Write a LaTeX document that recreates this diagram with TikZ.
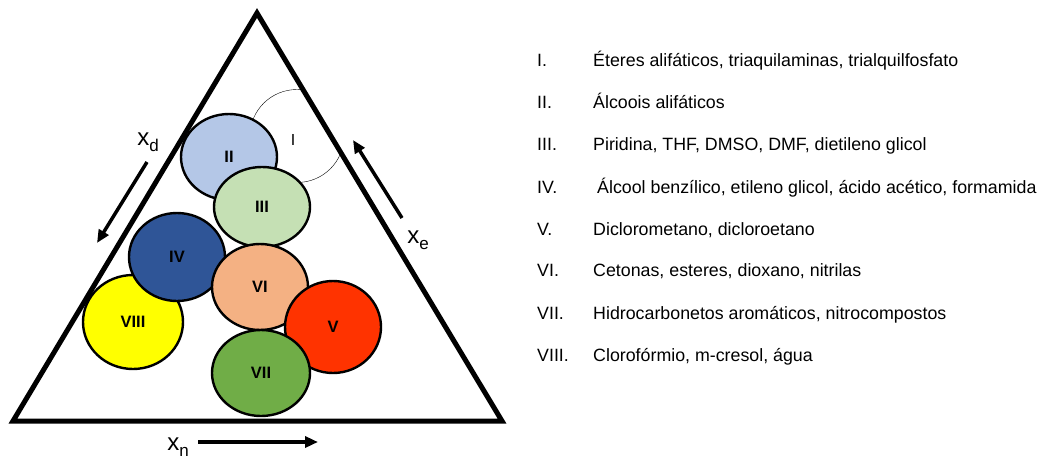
\documentclass[tikz,border=0pt]{standalone}
\usepackage{fontspec}
\setmainfont{Liberation Sans}
\usetikzlibrary{arrows.meta}
\usetikzlibrary{shapes.geometric}
\definecolor{alcblue}{HTML}{B4C7E7}
\definecolor{pyrgreen}{HTML}{C5E0B4}
\definecolor{benzblue}{HTML}{2F5597}
\definecolor{ketsalmon}{HTML}{F4B183}
\definecolor{dclred}{HTML}{FF3300}
\definecolor{chlyellow}{HTML}{FFFF00}
\definecolor{aromgreen}{HTML}{70AD47}
\newcommand{\xlab}[1]{x\raisebox{-0.5ex}{\fontsize{17}{17}\selectfont #1}}

\begin{document}
\begin{tikzpicture}
[x=1pt,y=-1pt,
disc/.style={shape=ellipse,draw,line width=2.4pt,inner sep=0pt,
  minimum width=96pt,minimum height=86pt,
  font=\fontsize{16.5}{16.5}\selectfont\bfseries},
axis/.style={line width=3.5pt,-{Triangle[length=13pt,width=11pt]}},
axlabel/.style={font=\fontsize{24}{24}\selectfont,inner sep=0pt},
num/.style={anchor=base west,inner sep=0pt,font=\fontsize{17.8}{20}\selectfont},
item/.style={num}]

\useasboundingbox (0,0) rectangle (1062,461);

\coordinate (top) at (257,13);
\coordinate (bl) at (13,421);
\coordinate (br) at (502,421);

% group I, cut by the triangle
\begin{scope}
  \clip (top) -- (bl) -- (br) -- cycle;
  \node (c1) [shape=ellipse,draw,thin,minimum width=94pt,minimum height=93pt]
        at (297,136) {};
\end{scope}
\node (l1) [font=\fontsize{16}{16}\selectfont] at (293,140) {I};

\node (c2) [disc,fill=alcblue] at (229,157) {II};
\node (c3) [disc,fill=pyrgreen,minimum height=80pt] at (262,207) {III};
\node (c8) [disc,fill=chlyellow,minimum width=100pt,minimum height=94pt] at (133,322) {VIII};
\node (c4) [disc,fill=benzblue,minimum height=88pt] at (177,257) {IV};
\node (c6) [disc,fill=ketsalmon] at (260,287) {VI};
\node (c5) [disc,fill=dclred,minimum height=92pt] at (333,327) {V};
\node (c7) [disc,fill=aromgreen,minimum width=98pt] at (261,373) {VII};

\draw [line width=5pt] (top) -- (bl) -- (br) -- cycle;

% axes
\coordinate (d0) at (147,162);
\coordinate (d1) at (97,243);
\draw [axis] (d0) -- (d1);
\node (xd) [axlabel] at (148,142) {\xlab{d}};

\coordinate (e0) at (402,218);
\coordinate (e1) at (353,140);
\draw [axis] (e0) -- (e1);
\node (xe) [axlabel] at (418,240) {\xlab{e}};

\coordinate (n0) at (198,442);
\coordinate (n1) at (318,442);
\draw [axis] (n0) -- (n1);
\node (xn) [axlabel] at (178,447) {\xlab{n}};

% legend
\node (k1) [num] at (537,66) {I.};
\node (t1) [item] at (593,66) {Éteres alifáticos, triaquilaminas, trialquilfosfato};
\node (k2) [num] at (537,108) {II.};
\node (t2) [item] at (593,108) {Álcoois alifáticos};
\node (k3) [num] at (537,150) {III.};
\node (t3) [item] at (593,150) {Piridina, THF, DMSO, DMF, dietileno glicol};
\node (k4) [num] at (537,193) {IV.};
\node (t4) [item] at (597,193) {Álcool benzílico, etileno glicol, ácido acético, formamida};
\node (k5) [num] at (537,235) {V.};
\node (t5) [item] at (593,235) {Diclorometano, dicloroetano};
\node (k6) [num] at (537,276) {VI.};
\node (t6) [item] at (593,276) {Cetonas, esteres, dioxano, nitrilas};
\node (k7) [num] at (537,319) {VII.};
\node (t7) [item] at (593,319) {Hidrocarbonetos aromáticos, nitrocompostos};
\node (k8) [num] at (537,361) {VIII.};
\node (t8) [item] at (593,361) {Clorofórmio, m-cresol, água};
\end{tikzpicture}
\end{document}
